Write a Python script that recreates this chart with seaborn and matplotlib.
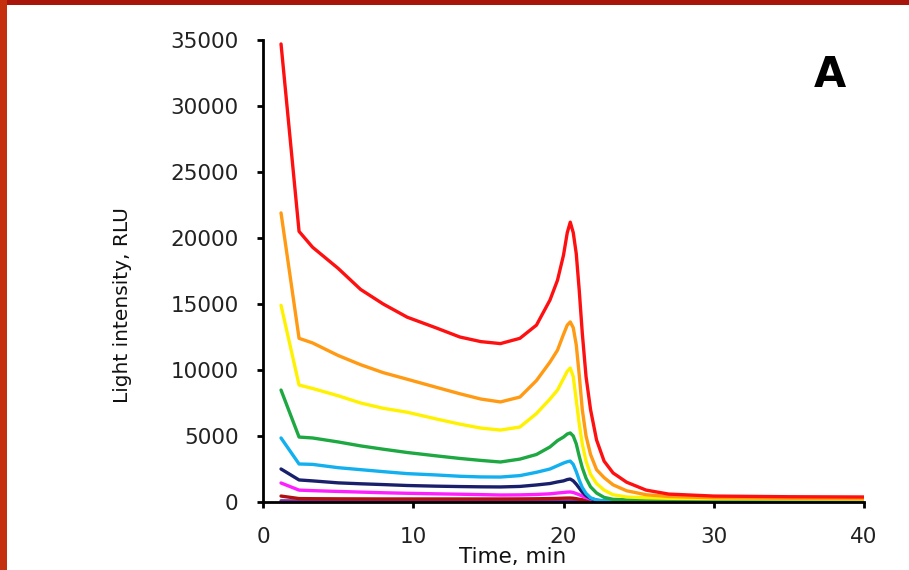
import matplotlib
matplotlib.use("Agg")
import matplotlib.pyplot as plt
import seaborn as sns
import pandas as pd
from matplotlib.patches import Rectangle

# ---- data ----
time_min = [1.2, 2.4, 3.3, 5, 6.5, 8, 9.6, 11.5, 13.1, 14.5, 15.8, 17.1, 18.2, 19.1,
            19.6, 20.0, 20.25, 20.45, 20.65, 20.85, 21.05, 21.25, 21.5, 21.8, 22.2, 22.7,
            23.3, 24.2, 25.5, 27, 30, 35, 40]

red = [34700, 20500, 19300, 17700, 16100, 15000, 14000, 13200, 12500, 12150, 12000, 12400, 13400, 15300,
       16800, 18700, 20400, 21200, 20400, 18800, 16000, 12800, 9500, 7000, 4700, 3100,
       2200, 1500, 900, 600, 450, 400, 380]
orange = [21900, 12400, 12050, 11100, 10400, 9800, 9300, 8700, 8200, 7800, 7580, 7950, 9200, 10600,
          11500, 12700, 13400, 13640, 13200, 11900, 9600, 7000, 5000, 3600, 2450, 1850,
          1300, 850, 550, 420, 320, 280, 260]
yellow = [14900, 8860, 8600, 8050, 7500, 7100, 6800, 6300, 5900, 5600, 5450, 5680, 6700, 7800,
          8480, 9350, 9900, 10150, 9500, 7700, 5900, 4400, 3100, 2100, 1400, 900,
          550, 380, 320, 280, 250, 230, 220]
green = [8480, 4920, 4850, 4550, 4250, 4000, 3750, 3500, 3300, 3150, 3030, 3250, 3600, 4170,
         4650, 4920, 5150, 5230, 5000, 4400, 3450, 2600, 1800, 1150, 680, 350,
         200, 170, 160, 150, 150, 150, 150]
light_blue = [4850, 2880, 2850, 2600, 2450, 2300, 2150, 2050, 1950, 1900, 1890, 2000, 2250, 2500,
              2750, 2950, 3050, 3100, 2850, 2300, 1650, 1100, 650, 320, 150, 100,
              90, 90, 90, 90, 90, 90, 90]
navy = [2500, 1670, 1600, 1450, 1380, 1320, 1250, 1200, 1170, 1150, 1140, 1180, 1290, 1400,
        1520, 1600, 1700, 1740, 1600, 1350, 1050, 750, 480, 280, 130, 70,
        60, 60, 60, 60, 60, 60, 60]
magenta = [1440, 900, 860, 800, 750, 700, 660, 620, 590, 560, 530, 540, 570, 620,
           680, 720, 750, 760, 720, 640, 550, 450, 330, 220, 120, 70,
           55, 50, 50, 50, 50, 50, 50]
dark_red = [450, 260, 250, 240, 235, 230, 230, 230, 230, 230, 230, 235, 245, 260,
            275, 290, 298, 300, 285, 250, 210, 170, 130, 95, 65, 45,
            40, 40, 40, 40, 40, 40, 40]
purple = [90, 80, 80, 80, 80, 80, 80, 80, 80, 80, 80, 80, 80, 80,
          80, 80, 80, 80, 80, 80, 80, 80, 80, 80, 80, 80,
          75, 70, 70, 70, 70, 70, 70]

series = {
    "purple": purple, "dark_red": dark_red, "magenta": magenta, "navy": navy,
    "light_blue": light_blue, "green": green, "yellow": yellow, "orange": orange, "red": red,
}
colors = {
    "purple": "#7A2FA8", "dark_red": "#B01010", "magenta": "#FF1EFF", "navy": "#1A1F6B",
    "light_blue": "#12B0EE", "green": "#1DA842", "yellow": "#FFF200", "orange": "#FF9A12",
    "red": "#FF1010",
}

x_ticks = [0, 10, 20, 30, 40]
y_ticks = [0, 5000, 10000, 15000, 20000, 25000, 30000, 35000]

rows = []
for name, vals in series.items():
    for t, v in zip(time_min, vals):
        rows.append({"time": t, "rlu": v, "series": name})
df = pd.DataFrame(rows)

sns.set_style("white")
plt.rcParams["font.family"] = ["DejaVu Sans"]

fig = plt.figure(figsize=(9.09, 5.70), dpi=100)
fig.patch.set_facecolor("white")
# slide border (red frame at top and left)
fig.patches.append(Rectangle((0, 1 - 5 / 570), 1, 5 / 570, transform=fig.transFigure,
                             facecolor="#A8160B", edgecolor="none", zorder=0))
fig.patches.append(Rectangle((0, 0), 7 / 909, 1, transform=fig.transFigure,
                             facecolor="#C4300E", edgecolor="none", zorder=0))

ax = fig.add_axes([263 / 909, 1 - 502 / 570, (864 - 263) / 909, (502 - 40) / 570])
ax.set_facecolor("white")

sns.lineplot(data=df, x="time", y="rlu", hue="series", hue_order=list(series.keys()),
             palette=colors, linewidth=2.4, sort=False, estimator=None, legend=False, ax=ax,
             solid_joinstyle="round", solid_capstyle="round")

ax.set_xlim(0, 40)
ax.set_ylim(0, 35000)
ax.set_xticks(x_ticks)
ax.set_yticks(y_ticks)
ax.set_xticklabels([str(v) for v in x_ticks])
ax.set_yticklabels([str(v) for v in y_ticks])

for side in ["top", "right"]:
    ax.spines[side].set_visible(False)
for side in ["left", "bottom"]:
    ax.spines[side].set_linewidth(2.0)
    ax.spines[side].set_color("black")
    ax.spines[side].set_zorder(5)

ax.tick_params(axis="y", direction="out", length=4.5, width=2.0, color="black",
               labelsize=15.5, labelcolor="#222222", pad=13, left=True)
ax.tick_params(axis="x", direction="out", length=4.0, width=2.0, color="black",
               labelsize=15.5, labelcolor="#222222", pad=14, bottom=True)

ax.set_xlabel("Time, min", fontsize=15.5, color="#111111")
ax.set_ylabel("Light intensity, RLU", fontsize=14.5, color="#111111")
ax.xaxis.set_label_coords(0.416, -0.097)
ax.yaxis.set_label_coords(-0.218, 0.426)

ax.text(0.943, 0.924, "A", transform=ax.transAxes, fontsize=30, fontweight="bold",
        ha="center", va="center", color="black")

fig.savefig("out.png", dpi=100, facecolor=fig.get_facecolor())
